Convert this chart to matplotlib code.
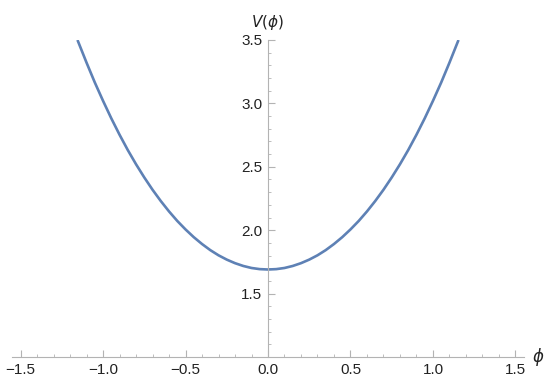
import matplotlib
matplotlib.use("Agg")
import matplotlib.pyplot as plt
from matplotlib.ticker import MultipleLocator, FixedLocator

phi = [-1.155, -1.1, -1.05, -1.0, -0.95, -0.9, -0.85, -0.8, -0.75, -0.7, -0.65,
       -0.6, -0.55, -0.5, -0.45, -0.4, -0.35, -0.3, -0.25, -0.2, -0.15, -0.1, -0.05,
       0.0, 0.05, 0.1, 0.15, 0.2, 0.25, 0.3, 0.35, 0.4, 0.45, 0.5, 0.55, 0.6,
       0.65, 0.7, 0.75, 0.8, 0.85, 0.9, 0.95, 1.0, 1.05, 1.1, 1.155]
V = [3.500, 3.321, 3.165, 3.020, 2.882, 2.753, 2.632, 2.520, 2.416, 2.319, 2.230,
     2.148, 2.073, 2.006, 1.945, 1.891, 1.843, 1.802, 1.768, 1.740, 1.718, 1.702, 1.693,
     1.690, 1.693, 1.702, 1.718, 1.740, 1.768, 1.802, 1.843, 1.891, 1.945, 2.006, 2.073, 2.148,
     2.230, 2.319, 2.416, 2.520, 2.632, 2.753, 2.882, 3.020, 3.165, 3.321, 3.500]

x_ticks = [-1.5, -1.0, -0.5, 0.0, 0.5, 1.0, 1.5]
y_ticks = [1.5, 2.0, 2.5, 3.0, 3.5]

plt.rcParams['font.family'] = ['Liberation Sans', 'DejaVu Sans']
plt.rcParams['mathtext.fontset'] = 'dejavusans'

fig = plt.figure(figsize=(5.5, 3.85), dpi=100)
ax = fig.add_axes([12/550, 28/385, 512/550, 317/385])
ax.set_xlim(-1.552, 1.552)
ax.set_ylim(1.0, 3.5)

ax.plot(phi, V, color='#5E81B5', lw=1.9, solid_capstyle='butt', clip_on=True)

axc = '#b3b3b3'
for s in ['top', 'right']:
    ax.spines[s].set_visible(False)
ax.spines['left'].set_position(('data', 0))
ax.spines['bottom'].set_position(('data', 1.0))
for s in ['left', 'bottom']:
    ax.spines[s].set_color(axc)
    ax.spines[s].set_linewidth(0.8)

ax.xaxis.set_major_locator(FixedLocator(x_ticks))
ax.yaxis.set_major_locator(FixedLocator(y_ticks))
ax.xaxis.set_minor_locator(MultipleLocator(0.1))
ax.yaxis.set_minor_locator(MultipleLocator(0.1))
ax.set_xticklabels([f"{t:.1f}".replace('-', '\u2212') for t in x_ticks])
ax.set_yticklabels([f"{t:.1f}" for t in y_ticks])

ax.tick_params(axis='both', which='major', direction='in', length=5, width=0.8,
               color=axc, labelsize=11, labelcolor='#222222')
ax.tick_params(axis='both', which='minor', direction='in', length=2.5, width=0.6,
               color=axc)
ax.tick_params(axis='x', pad=4)
ax.tick_params(axis='y', pad=4)

ax.text(1.60, 1.0, r'$\phi$', fontsize=12, ha='left', va='center', color='#222222')
ax.text(0.0, 3.56, r'$V(\phi)$', fontsize=11, ha='center', va='bottom', color='#222222')

fig.savefig('out.png', dpi=100)
